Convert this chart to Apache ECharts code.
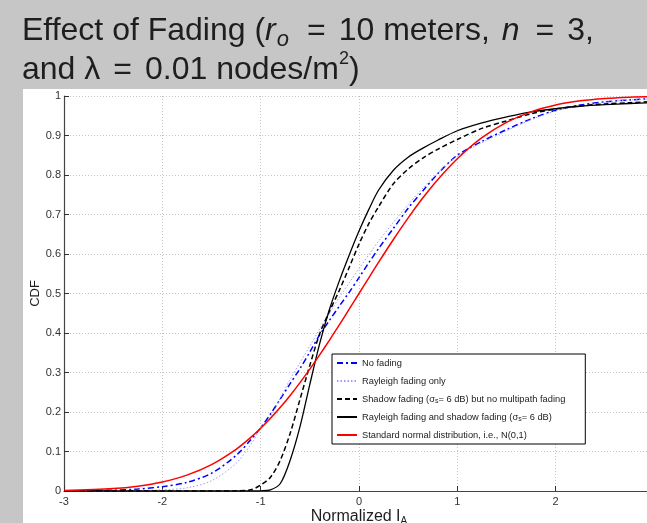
<!DOCTYPE html>
<html>
<head>
<meta charset="utf-8">
<script src="https://cdn.jsdelivr.net/npm/echarts@6/dist/echarts.min.js"></script>
<style>
  html, body { margin: 0; padding: 0; background: #c5c6c5; overflow: hidden; }
  /* the plot box runs a little past the right edge of the window */
  #chart { width: 660px; height: 523px; }
</style>
</head>
<body>
<div id="chart"></div>
<script>
// Normalized interference sample points (x) shared by every curve
const xValues = [-3, -2.5, -2.25, -2, -1.75, -1.5, -1.25, -1.1, -1, -0.9, -0.8, -0.7, -0.6, -0.5,
  -0.4, -0.3, -0.2, -0.1, 0, 0.1, 0.2, 0.35, 0.5, 0.65, 0.8, 1, 1.25, 1.5, 1.75, 2, 2.25, 2.5, 2.75, 3];

// CDF values for each fading scenario
const noFading = [0.0005, 0.002, 0.005, 0.011, 0.022, 0.045, 0.09, 0.13, 0.16, 0.195, 0.233, 0.272, 0.31, 0.352,
  0.395, 0.432, 0.468, 0.503, 0.54, 0.578, 0.614, 0.665, 0.716, 0.76, 0.803, 0.85, 0.885, 0.915, 0.942, 0.964, 0.977, 0.985, 0.99, 0.994];
const rayleighOnly = [0, 0.0003, 0.001, 0.003, 0.008, 0.026, 0.07, 0.118, 0.158, 0.188, 0.235, 0.283, 0.325, 0.367,
  0.41, 0.45, 0.49, 0.527, 0.563, 0.598, 0.633, 0.68, 0.725, 0.767, 0.805, 0.848, 0.882, 0.912, 0.94, 0.962, 0.975, 0.984, 0.99, 0.993];
const shadowOnly = [0, 0, 0, 0, 0, 0, 0.0005, 0.003, 0.015, 0.035, 0.078, 0.146, 0.232, 0.318,
  0.398, 0.455, 0.508, 0.566, 0.625, 0.677, 0.72, 0.778, 0.815, 0.843, 0.865, 0.89, 0.918, 0.937, 0.955, 0.967, 0.975, 0.98, 0.983, 0.986];
const rayleighShadow = [0, 0, 0, 0, 0, 0, 0, 0, 0.0005, 0.003, 0.019, 0.078, 0.163, 0.27,
  0.373, 0.46, 0.532, 0.597, 0.658, 0.713, 0.762, 0.812, 0.845, 0.868, 0.888, 0.912, 0.932, 0.947, 0.96, 0.968, 0.974, 0.978, 0.981, 0.983];
const standardNormal = [0.0013, 0.0062, 0.0122, 0.0228, 0.0401, 0.0668, 0.1056, 0.1357, 0.1587, 0.1841, 0.2119, 0.242, 0.2743, 0.3085,
  0.3446, 0.3821, 0.4207, 0.4602, 0.5, 0.5398, 0.5793, 0.6368, 0.6915, 0.7422, 0.7881, 0.8413, 0.8944, 0.9332, 0.9599, 0.9772, 0.9878, 0.9938, 0.997, 0.9987];

const seriesNames = [
  'No fading',
  'Rayleigh fading only',
  'Shadow fading (σs= 6 dB) but no multipath fading',
  'Rayleigh fading and shadow fading (σs= 6 dB)',
  'Standard normal distribution, i.e., N(0,1)'
];
const legendRich = {
  'No fading': '{t|No fading}',
  'Rayleigh fading only': '{t|Rayleigh fading only}',
  'Shadow fading (σs= 6 dB) but no multipath fading': '{t|Shadow fading (σ}{s|s}{t|= 6 dB) but no multipath fading}',
  'Rayleigh fading and shadow fading (σs= 6 dB)': '{t|Rayleigh fading and shadow fading (σ}{s|s}{t|= 6 dB)}',
  'Standard normal distribution, i.e., N(0,1)': '{t|Standard normal distribution, i.e., N(0,1)}'
};

const FONT = '"Liberation Sans", Arial, Helvetica, sans-serif';
const INK = '#1e1e1e';

function pairs(ys) { return xValues.map((x, i) => [x, ys[i]]); }

function makeSeries(name, ys, color, width, type) {
  return {
    name: name,
    type: 'line',
    data: pairs(ys),
    symbol: 'none',
    smooth: 0.3,
    clip: true,
    lineStyle: { color: color, width: width, type: type },
    itemStyle: { color: color }
  };
}

const chart = echarts.init(document.getElementById('chart'), null, { renderer: 'canvas' });

chart.setOption({
  backgroundColor: '#c5c6c5',
  animation: false,
  graphic: [
    {
      type: 'rect', z: -10, silent: true,
      shape: { x: 23, y: 89, width: 640, height: 440 },
      style: { fill: '#ffffff' }
    },
    {
      type: 'text', left: 22, top: 15, silent: true,
      style: {
        text: '{a|Effect of Fading (}{r|r}{o|o}{e|=}{a|10 meters, }{n|n}{e|=}{a|3,}\n' +
              '{a|and λ}{e|=}{a|0.01 nodes/m}{p|2}{a|)}',
        fill: INK,
        rich: {
          a: { fontFamily: FONT, fontSize: 32, lineHeight: 39, fill: INK },
          e: { fontFamily: FONT, fontSize: 32, lineHeight: 39, fill: INK, padding: [0, 13, 0, 13] },
          r: { fontFamily: FONT, fontSize: 32, fontStyle: 'italic', lineHeight: 39, fill: INK, padding: [0, 1, 0, 0] },
          n: { fontFamily: FONT, fontSize: 32, fontStyle: 'italic', lineHeight: 39, fill: INK, padding: [0, 3, 0, 3] },
          o: { fontFamily: FONT, fontSize: 22, fontStyle: 'italic', lineHeight: 20, verticalAlign: 'bottom', fill: INK, padding: [0, 5, 0, 0] },
          p: { fontFamily: FONT, fontSize: 18, lineHeight: 24, verticalAlign: 'top', fill: INK }
        }
      }
    }
  ],
  grid: { left: 64, right: 6, top: 96, bottom: 32, containLabel: false, outerBoundsMode: 'none' },
  legend: {
    orient: 'vertical',
    left: 332, top: 354,
    data: seriesNames,
    itemWidth: 20, itemHeight: 8, itemGap: 6,
    padding: [3, 20, 3, 4],
    backgroundColor: '#ffffff',
    borderColor: '#000000', borderWidth: 1, borderRadius: 0,
    itemStyle: { color: 'rgba(0,0,0,0)', borderWidth: 0 },
    formatter: name => legendRich[name],
    textStyle: {
      fontFamily: FONT, fontSize: 9.3, color: '#222', lineHeight: 12,
      rich: {
        t: { fontFamily: FONT, fontSize: 9.3, color: '#222', lineHeight: 12 },
        s: { fontFamily: FONT, fontSize: 7, color: '#222', lineHeight: 4, verticalAlign: 'bottom' }
      }
    }
  },
  xAxis: {
    type: 'value', min: -3, max: 3, interval: 1,
    name: '{a|Normalized I}{s|A}',
    nameLocation: 'middle', nameGap: 17, nameMoveOverlap: false,
    nameTextStyle: {
      rich: {
        a: { fontFamily: FONT, fontSize: 16, color: INK, lineHeight: 18 },
        s: { fontFamily: FONT, fontSize: 10, color: INK, lineHeight: 8, verticalAlign: 'bottom' }
      }
    },
    axisLine: { show: true, onZero: false, lineStyle: { color: '#444', width: 1.2 } },
    axisTick: { show: true, inside: true, length: 5, lineStyle: { color: '#333' } },
    axisLabel: { fontFamily: FONT, fontSize: 11, color: '#333', margin: 5 },
    splitLine: { show: true, lineStyle: { color: '#c4c4c4', width: 1, type: [1, 2] } }
  },
  yAxis: {
    type: 'value', min: 0, max: 1, interval: 0.1,
    name: 'CDF', nameLocation: 'middle', nameGap: 22, nameRotate: 90, nameMoveOverlap: false,
    nameTextStyle: { fontFamily: FONT, fontSize: 13, color: INK },
    axisLine: { show: true, onZero: false, lineStyle: { color: '#444', width: 1.2 } },
    axisTick: { show: true, inside: true, length: 5, lineStyle: { color: '#333' } },
    axisLabel: { fontFamily: FONT, fontSize: 11, color: '#333', margin: 3 },
    splitLine: { show: true, lineStyle: { color: '#c4c4c4', width: 1, type: [1, 2] } }
  },
  series: [
    makeSeries(seriesNames[0], noFading, '#0000ff', 1.5, [6, 3, 2, 3]),
    makeSeries(seriesNames[1], rayleighOnly, '#9a9aff', 1, [1.5, 2]),
    makeSeries(seriesNames[2], shadowOnly, '#000000', 1.5, [5, 3]),
    makeSeries(seriesNames[3], rayleighShadow, '#000000', 1.3, 'solid'),
    makeSeries(seriesNames[4], standardNormal, '#ff0000', 1.5, 'solid')
  ]
});
</script>
</body>
</html>
